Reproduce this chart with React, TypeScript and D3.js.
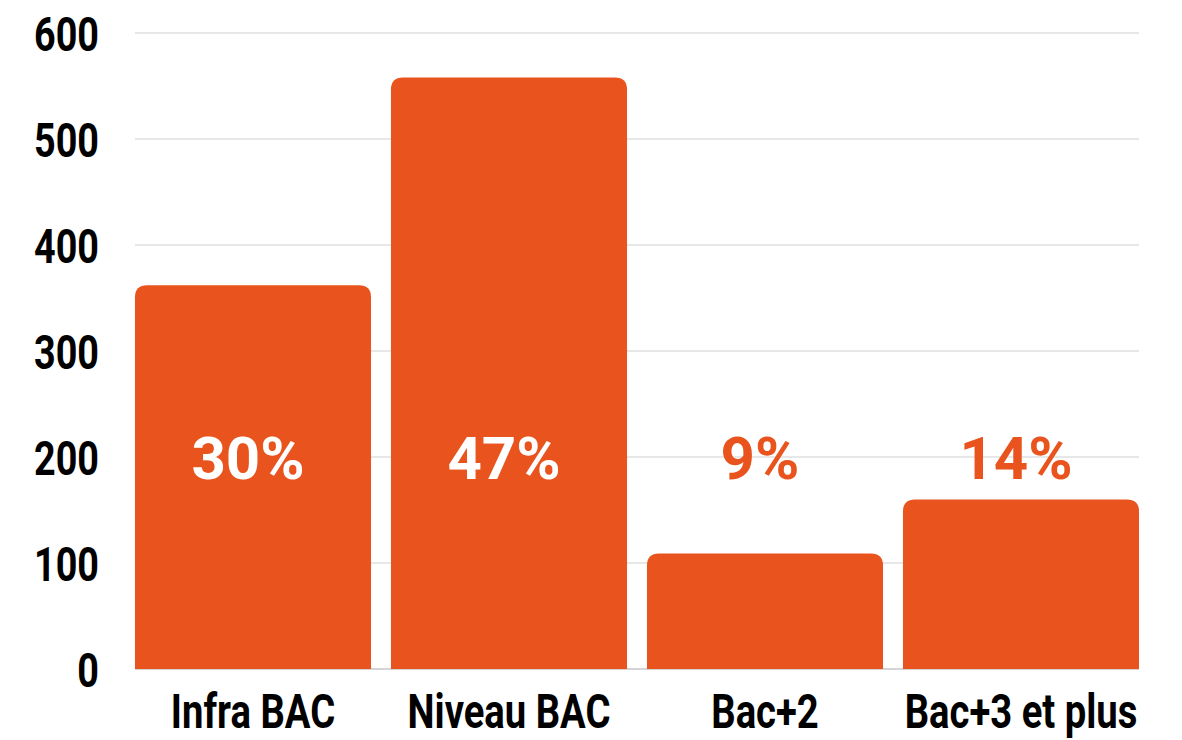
import React from "react";
import * as d3 from "d3";

const categories = ["Infra BAC", "Niveau BAC", "Bac+2", "Bac+3 et plus"];
const values = [362, 558, 109, 160];
const percentLabels = ["30%", "47%", "9%", "14%"];
const yTicks = [0, 100, 200, 300, 400, 500, 600];

const W = 1182;
const H = 740;
const ORANGE = "#E9531D";
const condensed = "Roboto, 'Liberation Sans', sans-serif";
const sans = "Roboto, 'Liberation Sans', Arial, sans-serif";

function topRounded(x: number, y: number, w: number, h: number, r: number) {
  const rr = Math.min(r, w / 2, h);
  return `M${x},${y + h}V${y + rr}Q${x},${y} ${x + rr},${y}H${x + w - rr}Q${x + w},${y} ${x + w},${y + rr}V${y + h}Z`;
}

export default function App() {
  const x = d3.scaleBand<string>().domain(categories).range([125, 1149]).paddingInner(0.078).paddingOuter(0.039);
  const y = d3.scaleLinear().domain([0, 600]).range([669, 33]);
  const x0 = x(categories[0])!;
  const x1 = x(categories[categories.length - 1])! + x.bandwidth();
  const labelY = y(200);

  return (
    <svg width={W} height={H} style={{ position: "absolute", left: 0, top: 0, background: "#fff" }}>
      {yTicks.map((t) => (
        <g key={t}>
          <line x1={x0} x2={x1} y1={y(t)} y2={y(t)} stroke={t === 0 ? "#aaaaaa" : "#d0d0d0"} strokeWidth={1.2} />
          <text
            transform={`translate(99,${y(t)}) scale(0.77,1)`}
            dy="0.36em"
            textAnchor="end"
            fontFamily={condensed}
            fontWeight={700}
            fontSize={49}
            fill="#000"
          >
            {t}
          </text>
        </g>
      ))}
      {categories.map((c, i) => {
        const bx = x(c)!;
        const by = y(values[i]);
        return <path key={c} d={topRounded(bx, by, x.bandwidth(), y(0) - by, 12)} fill={ORANGE} />;
      })}
      {categories.map((c, i) => {
        const inside = y(values[i]) < labelY - 30;
        return (
          <text
            key={c + "p"}
            x={x(c)! + x.bandwidth() / 2 - 5}
            y={labelY}
            dy="0.36em"
            textAnchor="middle"
            fontFamily={sans}
            fontWeight={700}
            fontSize={60}
            fill={inside ? "#fff" : ORANGE}
          >
            {percentLabels[i]}
          </text>
        );
      })}
      {categories.map((c) => (
        <text
          key={c + "l"}
          transform={`translate(${x(c)! + x.bandwidth() / 2},${y(0) + 41}) scale(0.78,1)`}
          dy="0.36em"
          textAnchor="middle"
          fontFamily={condensed}
          fontWeight={700}
          fontSize={49}
          fill="#000"
        >
          {c}
        </text>
      ))}
    </svg>
  );
}
